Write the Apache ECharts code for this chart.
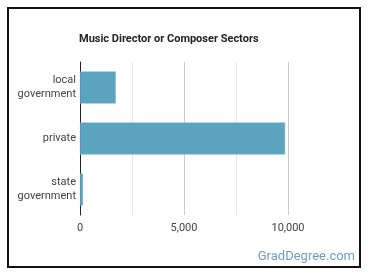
<!DOCTYPE html>
<html>
<head>
<meta charset="utf-8">
<script src="https://cdn.jsdelivr.net/npm/echarts@6/dist/echarts.min.js"></script>
<style>
  body { margin: 0; background: #fff; }
  #main { position: absolute; left: 0; top: 0; width: 370px; height: 278px; }
  #frame {
    position: absolute; left: 7px; top: 7px; width: 350px; height: 257px;
    border: 2px solid #111; pointer-events: none;
  }
</style>
</head>
<body>
<div id="main"></div>
<div id="frame"></div>
<script>
const sectors = ["local\ngovernment", "private", "state\ngovernment"];
const workers = [1720, 9860, 145];
const xTicks = [0, 5000, 10000];

let option = {
  animation: false,
  title: {
    text: "Music Director or Composer Sectors",
    left: 74,
    top: 29,
    textStyle: {
      fontFamily: "Roboto",
      fontSize: 11,
      fontWeight: "bold",
      color: "#222",
    },
  },
  grid: {
    left: 80,
    right: 82,
    top: 62,
    bottom: 63,
  },
  xAxis: {
    type: "value",
    min: xTicks[0],
    max: xTicks[xTicks.length - 1],
    interval: 5000,
    axisLine: { show: false },
    axisTick: { show: false },
    axisLabel: {
      fontFamily: "Roboto",
      fontSize: 11,
      color: "#444",
      margin: 8,
      formatter: (v) => v.toLocaleString("en-US"),
    },
    splitLine: { lineStyle: { color: "#ccc" } },
    minorTick: { show: false, splitNumber: 2 },
    minorSplitLine: { show: true, lineStyle: { color: "#e8e8e8" } },
  },
  yAxis: {
    type: "category",
    inverse: true,
    data: sectors,
    axisLine: { lineStyle: { color: "#222" } },
    axisTick: { show: false },
    axisLabel: {
      fontFamily: "Roboto",
      fontSize: 11,
      color: "#444",
      margin: 4,
      lineHeight: 14,
      align: "right",
    },
  },
  series: [
    {
      type: "bar",
      data: workers,
      barWidth: "63%",
      itemStyle: {
        color: "#5ca3c0",
        borderColor: "#7db7cf",
        borderWidth: 0.5,
      },
    },
  ],
  graphic: [
    {
      type: "text",
      right: 15,
      top: 250,
      style: {
        text: "GradDegree.com",
        fontFamily: "Roboto",
        fontSize: 13,
        fill: "#6d9fbb",
      },
    },
  ],
};

let myChart = echarts.init(document.getElementById("main"));
option && myChart.setOption(option);
</script>
</body>
</html>
